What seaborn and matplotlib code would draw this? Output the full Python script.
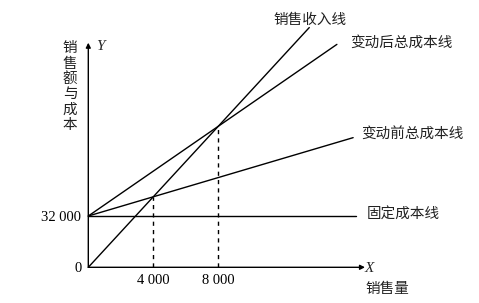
import matplotlib
matplotlib.use("Agg")
import matplotlib.pyplot as plt
import seaborn as sns
import pandas as pd

# ---- data ----
unit_price = 11            # sales revenue per unit
var_cost_before = 3        # variable cost per unit before change
var_cost_after = 7         # variable cost per unit after change
fixed_cost = 32000
break_even_points = [4000, 8000]
x_tick_labels = ["4 000", "8 000"]
y_ticks = [0, 32000]
y_tick_labels = ["0", "32 000"]
line_names = ["销售收入线", "变动后总成本线", "变动前总成本线", "固定成本线"]
line_end_x = [13600, 15300, 16300, 16500]
x_label = "销售量"
y_label = "销售额与成本"

W, H = 479, 303
sns.set_theme(style="white")
plt.rcParams["font.family"] = ["Noto Sans CJK SC", "DejaVu Sans"]

fig = plt.figure(figsize=(W / 100, H / 100), dpi=100)
fig.patch.set_facecolor("white")
x0, y0, x1, y1 = 88.3, 267.3, 365.0, 42.7
ax = fig.add_axes([x0 / W, 1 - y0 / H, (x1 - x0) / W, (y0 - y1) / H])
ax.set_facecolor("white")

# build line data
rows = []
funcs = [
    lambda x: unit_price * x,
    lambda x: fixed_cost + var_cost_after * x,
    lambda x: fixed_cost + var_cost_before * x,
    lambda x: fixed_cost + 0 * x,
]
for name, xe, f in zip(line_names, line_end_x, funcs):
    for xv in (0, xe):
        rows.append({"line": name, "x": xv, "y": f(xv)})
df = pd.DataFrame(rows)

sns.lineplot(data=df, x="x", y="y", hue="line", palette=["black"] * 4,
             legend=False, estimator=None, linewidth=1.0, ax=ax)
for ln in ax.lines:
    ln.set_clip_on(False)

# dashed guides at break-even points
ax.vlines(break_even_points, 0, [unit_price * bx for bx in break_even_points],
          colors="black", linewidth=1.0, linestyles=(0, (3, 3)))

ax.set_xlim(0, 17030)
ax.set_ylim(0, 140150)
for s in ax.spines.values():
    s.set_visible(False)

# axes with arrows
ax.annotate("", xy=(1, 0), xytext=(0, 0), xycoords="axes fraction",
            arrowprops=dict(arrowstyle="-|>", color="black", lw=1.0,
                            mutation_scale=7, shrinkA=0, shrinkB=0))
ax.annotate("", xy=(0, 1), xytext=(0, 0), xycoords="axes fraction",
            arrowprops=dict(arrowstyle="-|>", color="black", lw=1.0,
                            mutation_scale=7, shrinkA=0, shrinkB=0))

serif = ["Liberation Serif", "DejaVu Serif"]
ax.set_xticks(break_even_points)
ax.set_xticklabels(x_tick_labels, family=serif, fontsize=10.5)
ax.set_yticks(y_ticks)
ax.set_yticklabels(y_tick_labels, family=serif, fontsize=10.5)
ax.tick_params(axis="both", length=0, pad=5, colors="black")
ax.set_xlabel("")
ax.set_ylabel("")
ax.grid(False)

cjk = dict(fontsize=10.5, color="#222222", va="center", ha="left",
           weight="light")
label_pos = [(273, 20), (350.7, 43), (361.7, 135), (367, 215)]
for name, (px, py) in zip(line_names, label_pos):
    fig.text(px / W, 1 - py / H, name, **cjk)

fig.text(369 / W, 1 - 268 / H, "X", family=serif, style="italic",
         fontsize=11, va="center", ha="center")
fig.text(365 / W, 1 - 289 / H, x_label, **cjk)
fig.text(100 / W, 1 - 46 / H, "Y", family=serif, style="italic",
         fontsize=11, va="center", ha="center")
fig.text(70 / W, 1 - 86.5 / H, "\n".join(y_label), fontsize=10.5,
         weight="light", color="#222222", va="center", ha="center",
         linespacing=1.12)

fig.savefig("out.png", dpi=100)
